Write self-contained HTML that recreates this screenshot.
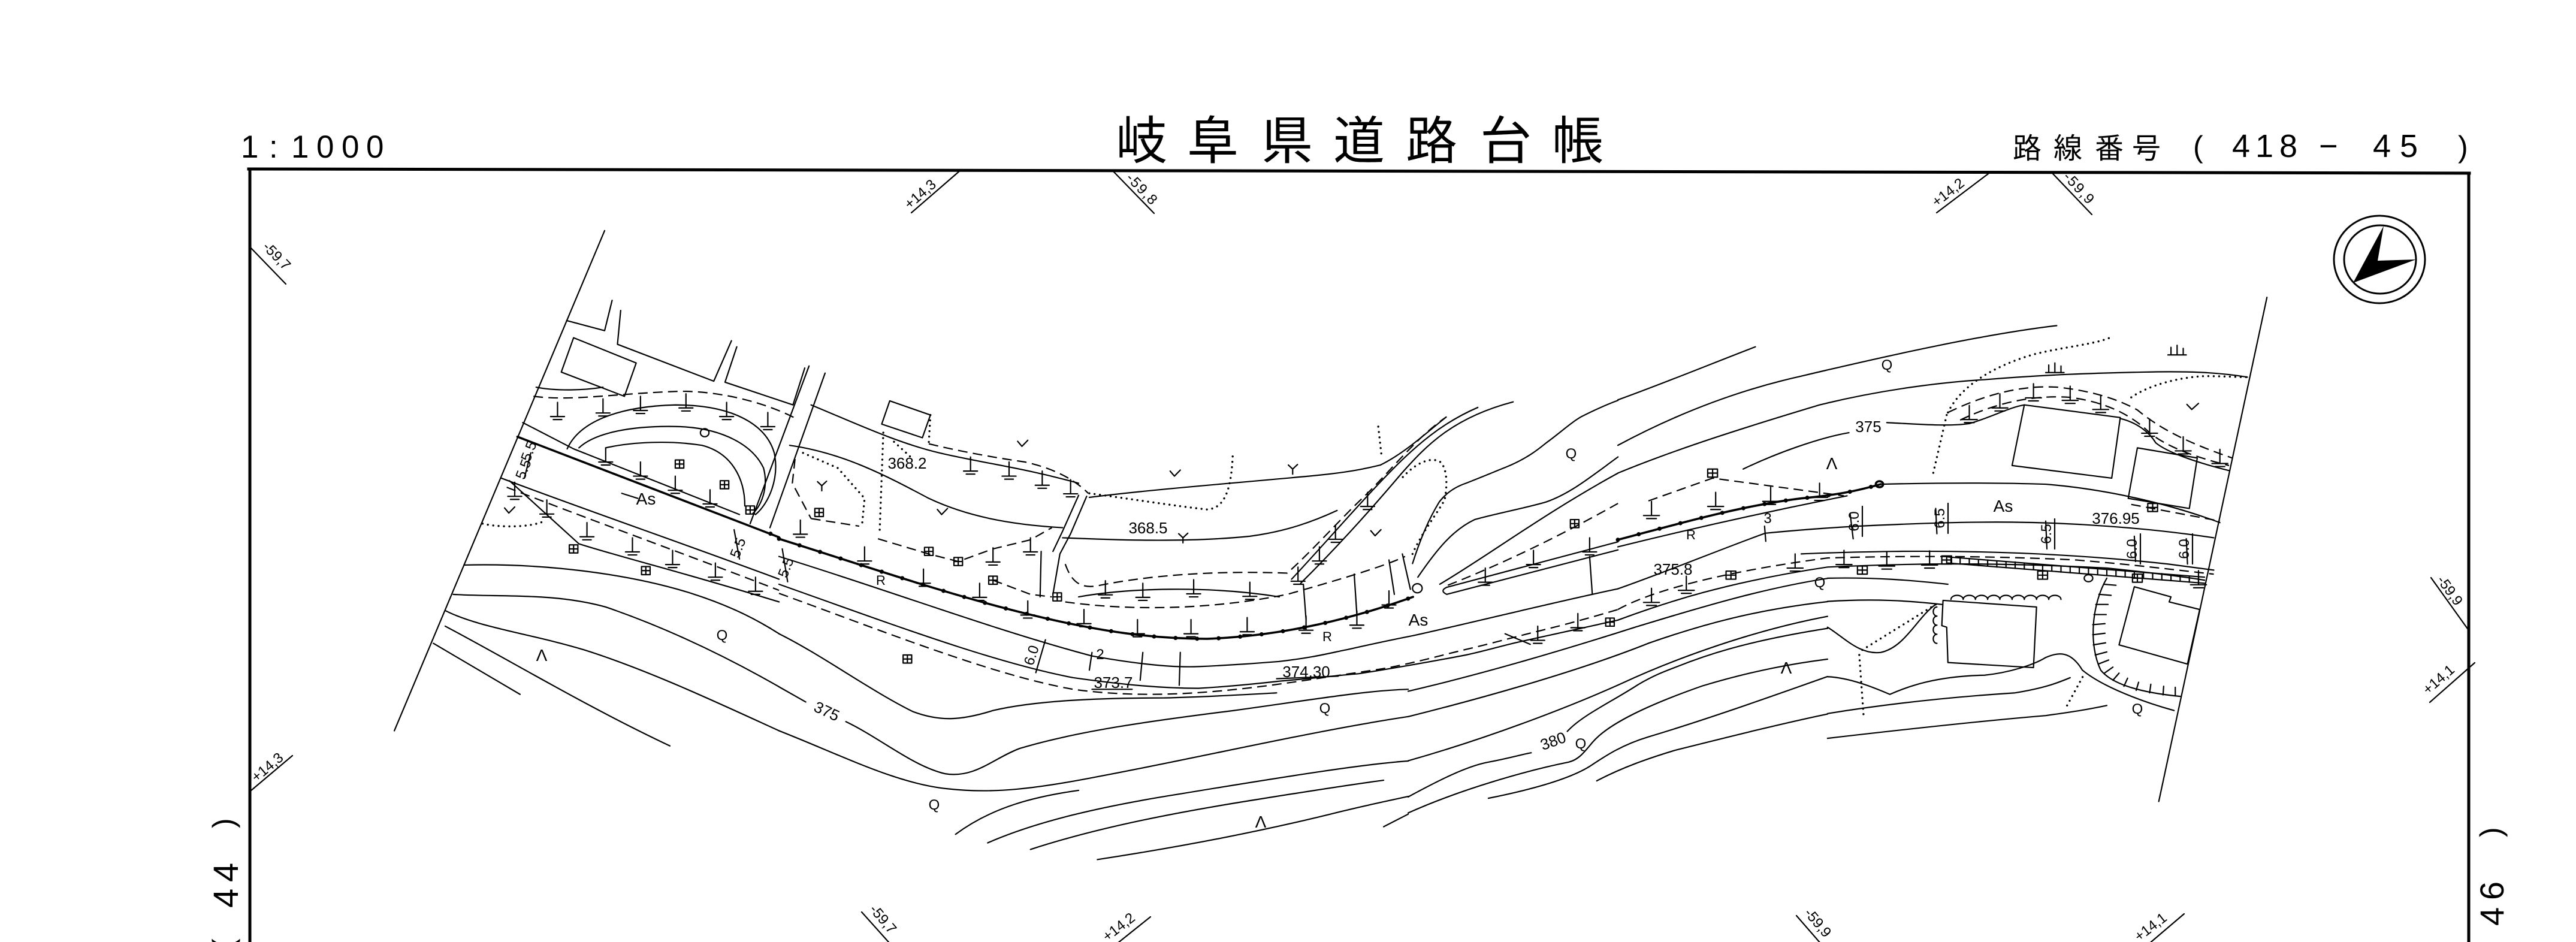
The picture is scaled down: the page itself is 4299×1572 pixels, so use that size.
<!DOCTYPE html>
<html><head><meta charset="utf-8"><style>
html,body{margin:0;padding:0;background:#fff}
body{width:4299px;height:1572px;overflow:hidden}
svg{display:block}
.l{fill:none;stroke:#000;stroke-width:2.2;vector-effect:non-scaling-stroke;stroke-linecap:round;stroke-linejoin:round}
.d{stroke-dasharray:16 9;stroke-linecap:butt}
.o{stroke-dasharray:0 9;stroke-width:3.4}
.k{stroke-width:3.6}
.p{stroke-dasharray:0 36;stroke-width:7}
.b{fill:none;stroke:#000;stroke-width:5;stroke-linecap:square}
.t{font-family:"Liberation Sans",sans-serif;font-size:26px;fill:#000}
.s{font-family:"Liberation Sans",sans-serif;font-size:24px;fill:#000}
.c{font-family:"Liberation Sans","Noto Sans CJK JP",sans-serif;fill:#000}
</style></head><body>
<svg width="4299" height="1572" viewBox="0 0 4299 1572" xmlns="http://www.w3.org/2000/svg">
<defs>
<path id="sl" class="l" d="M0,-22 V6 M-13,6 H13 M-8,12 H8"/>
<path id="sq" class="l" d="M-8,-8 H8 V8 H-8 Z M0,-8 V8 M-8,0 H8"/>
<path id="vk" class="l" d="M-9,-6 L-1,4 L10,-8"/>
<path id="yy" class="l" d="M0,10 V0 M0,0 L-8,-8 M0,0 L9,-9"/>
</defs>
<rect width="4299" height="1572" fill="#fff"/>

<!-- header -->
<text class="c" x="402 449 486 528 570 611" y="263" font-size="53">1:1000</text>
<text class="c" x="1862 1981 2105 2225 2346 2470 2590" y="265" font-size="86" style="font-family:'Noto Sans CJK JP',sans-serif">岐阜県道路台帳</text>
<text class="c" x="3359 3427 3496 3558" y="264" font-size="48" style="font-family:'Noto Sans CJK JP',sans-serif">路線番号</text>
<text class="c" x="3660" y="262" font-size="50">(</text>
<text class="c" x="3725 3764 3804" y="262" font-size="54">418</text>
<text class="c" x="3870" y="262" font-size="54">−</text>
<text class="c" x="3960 4005" y="262" font-size="54">45</text>
<text class="c" x="4102" y="262" font-size="50">)</text>

<!-- frame -->
<path class="b" d="M415,282 L4121,289"/>
<path class="b" d="M417,282 V1575"/>
<path class="b" d="M4120,289 V1575"/>

<!-- side labels -->
<text class="c" font-size="50" transform="translate(390,1583) rotate(-90)">(</text>
<text class="c" font-size="58" transform="translate(397,1515) rotate(-90)">4</text>
<text class="c" font-size="58" transform="translate(397,1472) rotate(-90)">4</text>
<text class="c" font-size="50" transform="translate(390,1382) rotate(-90)">)</text>
<text class="c" font-size="56" transform="translate(4178,1545) rotate(-90)">4</text>
<text class="c" font-size="56" transform="translate(4178,1502) rotate(-90)">6</text>
<text class="c" font-size="50" transform="translate(4174,1397) rotate(-90)">)</text>

<!-- north arrow -->
<ellipse cx="3971" cy="433" rx="76" ry="73" fill="none" stroke="#000" stroke-width="3"/>
<ellipse cx="3972" cy="433" rx="60" ry="57" fill="none" stroke="#000" stroke-width="3"/>
<polygon points="3978,377 3927,472 4032,433 3968,435" fill="#000"/>

<!-- grid ticks -->
<g>
<path class="l" d="M1521,355 L1603,284"/><text class="s" transform="translate(1518,350) rotate(-41)">+14,3</text>
<path class="l" d="M1858,286 L1926,356"/><text class="s" transform="translate(1878,298) rotate(46)" letter-spacing="2">-59,8</text>
<path class="l" d="M3232,355 L3322,287"/><text class="s" transform="translate(3232,346) rotate(-38)">+14,2</text>
<path class="l" d="M3426,290 L3491,358"/><text class="s" transform="translate(3442,296) rotate(47)" letter-spacing="2">-59,9</text>
<path class="l" d="M417,412 L477,474"/><text class="s" transform="translate(437,413) rotate(46)">-59,7</text>
<path class="l" d="M418,1320 L488,1261"/><text class="s" transform="translate(428,1306) rotate(-40)">+14,3</text>
<path class="l" d="M4057,964 L4120,1052"/><text class="s" transform="translate(4066,968) rotate(54)">-59,9</text>
<path class="l" d="M4055,1172 L4130,1106"/><text class="s" transform="translate(4052,1160) rotate(-41)">+14,1</text>
<path class="l" d="M1438,1522 L1490,1580"/><text class="s" transform="translate(1450,1518) rotate(50)">-59,7</text>
<path class="l" d="M1855,1582 L1920,1530"/><text class="s" transform="translate(1848,1572) rotate(-38)">+14,2</text>
<path class="l" d="M2998,1528 L3045,1582"/><text class="s" transform="translate(3010,1524) rotate(50)">-59,9</text>
<path class="l" d="M3578,1582 L3645,1525"/><text class="s" transform="translate(3570,1572) rotate(-38)">+14,1</text>
</g>

<!-- ===== region 2 ===== -->
<g transform="translate(350,250) scale(0.893,0.843)">
<path class="l" d="M738,160 L345,1150"/>
<path class="l" d="M752,298 L738,358 L667,338"/>
<path class="l" d="M768,318 L762,385 L942,458 L975,378"/>
<path class="l" d="M985,390 L963,460 L1090,505 L1112,432"/>
<path class="l" d="M680,372 L797,422 L775,488 L657,440 Z"/>
<path class="l" d="M1120,428 L1010,740 M1150,442 L1047,748"/>
<path class="l d" d="M605,488 C680,498 760,482 880,478 C960,478 1040,502 1092,530"/>
<path class="l" d="M610,470 C650,478 700,476 735,470"/>
<path class="l" d="M668,592 C690,540 760,508 870,505 C980,505 1040,545 1055,600 C1065,650 1045,700 1020,722"/>
<path class="l" d="M690,590 C720,560 790,545 880,548 C960,552 1015,585 1035,630 C1045,670 1030,705 1015,720"/>
<path class="l" d="M740,590 C790,578 860,575 920,585 C975,600 1000,650 1000,705"/>
<circle class="l" cx="925" cy="560" r="8"/>
<path class="l" d="M585,540 L680,592 L990,722"/>
<path class="l k" d="M575,568 L1064,767"/>
<path class="l p" d="M1048,760 L1064,767"/>
<path class="l" d="M545,650 C700,712 900,785 1064,850"/>
<path class="l d" d="M555,668 C700,728 900,805 1064,872"/>
<path class="l" d="M560,655 L690,780 C780,810 880,835 1064,895"/>
<path class="l o" d="M510,740 C540,748 600,748 625,735"/>
<path class="l" d="M770,680 L800,690"/>
<path class="l" d="M600,600 L588,650 M980,752 L990,810 M1070,790 L1080,855"/>
<path class="l" d="M475,822 C620,818 780,838 900,878 C980,905 1030,935 1064,958"/>
<path class="l" d="M455,880 C540,886 640,876 740,905 C850,945 960,1000 1064,1063"/>
<path class="l" d="M440,912 C500,945 600,958 700,990 C820,1030 950,1095 1064,1150"/>
<path class="l" d="M418,977 L580,1078"/>
<path class="l" d="M440,943 C560,1010 700,1100 860,1180"/>
<use href="#sl" x="650" y="522"/><use href="#sl" x="735" y="515"/><use href="#sl" x="805" y="510"/>
<use href="#sl" x="890" y="505"/><use href="#sl" x="966" y="522"/><use href="#sl" x="1043" y="542"/>
<use href="#sl" x="740" y="612"/><use href="#sl" x="805" y="640"/><use href="#sl" x="870" y="668"/><use href="#sl" x="935" y="695"/>
<use href="#sl" x="705" y="760"/><use href="#sl" x="790" y="790"/><use href="#sl" x="865" y="815"/>
<use href="#sl" x="945" y="840"/><use href="#sl" x="1020" y="868"/><use href="#sl" x="570" y="680"/><use href="#sl" x="630" y="715"/>
<use href="#sq" x="878" y="622"/><use href="#sq" x="962" y="663"/><use href="#sq" x="1010" y="713"/>
<use href="#sq" x="680" y="790"/><use href="#sq" x="815" y="833"/>
<use href="#vk" x="560" y="715"/>
</g>

<!-- ===== region 3 ===== -->
<g transform="translate(1300,250) scale(0.893,0.843)">
<path class="l" d="M207,497 L283,525 L268,570 L192,543 Z"/>
<path class="l o" d="M283,525 L280,580 M195,560 L188,760 M215,578 L248,610"/>
<path class="l o" d="M45,600 L110,630 L160,690 L155,745"/>
<path class="l d" d="M60,730 L150,745 M30,612 L25,660 L60,730"/>
<path class="l" d="M60,505 C140,540 220,580 300,600 C380,620 450,628 560,660"/>
<path class="l d" d="M280,582 C350,600 420,612 460,618 C510,630 550,650 578,680"/>
<path class="l" d="M20,585 C120,600 200,645 280,690 C350,725 430,742 530,748"/>
<path class="l o" d="M580,680 C650,690 740,705 800,712 C830,710 845,680 848,605"/>
<path class="l o" d="M1120,548 L1126,605"/>
<path class="l" d="M580,688 C700,672 850,660 1000,645 C1070,638 1100,630 1124,624 C1170,600 1210,560 1247,529"/>
<path class="l" d="M530,768 C620,772 760,778 880,765 C950,755 1000,735 1043,714"/>
<path class="l" d="M575,686 L545,760 L525,800 L512,880 M560,684 L530,755 L512,795"/>
<path class="l" d="M490,795 L488,885"/>
<path class="l d" d="M185,770 L280,800 L335,815 L400,790 L470,772 L510,748 M400,852 L470,880 L510,885"/>
<path class="l d" d="M535,820 C545,850 560,872 600,862 C680,845 800,832 950,838 C1000,790 1050,730 1090,690 C1140,640 1190,570 1247,529"/>
<path class="l" d="M975,858 C1040,790 1100,720 1164,640 C1210,585 1260,530 1372,499"/>
<path class="l" d="M958,850 C1020,780 1080,705 1140,640 C1190,585 1240,540 1306,510"/>
<path class="l d" d="M535,895 C650,912 800,912 950,880 C1050,850 1130,825 1170,805"/>
<path class="l" d="M560,885 C650,868 800,862 935,885"/>
<path class="l" d="M980,860 L985,930 M1075,840 L1080,920 M1140,812 L1150,880 M1165,800 L1180,870"/>
<circle class="l" cx="1193" cy="868" r="9"/>
<path class="l o" d="M1184,800 C1200,760 1230,720 1244,693 C1250,660 1248,630 1236,618 C1215,605 1185,625 1164,650"/>
<path class="l k" d="M0,770 C150,820 300,875 450,915 C600,955 700,968 800,968 C950,962 1080,925 1185,885"/>
<path class="l p" d="M0,770 C150,820 300,875 450,915 C600,955 700,968 800,968 C950,962 1080,925 1185,885"/>
<path class="l" d="M1568,776 L1248,866 Q1234,873 1248,880 L1568,792"/>
<path class="l" d="M0,805 C200,870 400,950 585,1002 C680,1020 740,1025 784,1023 C850,1020 900,1016 934,1013 C1000,1005 1030,996 1064,989 C1110,978 1150,969 1184,962 C1300,935 1450,895 1568,869"/>
<path class="l" d="M0,860 C200,935 400,1015 550,1045 C650,1060 720,1066 784,1066 C850,1062 900,1056 934,1052 C1000,1046 1050,1040 1084,1037 C1150,1026 1220,1013 1284,1000 C1320,992 1350,982 1384,974 C1450,958 1510,944 1568,931"/>
<path class="l d" d="M0,878 C200,955 400,1040 550,1068 C700,1090 850,1072 1004,1047 C1060,1038 1100,1032 1135,1026 C1190,1015 1240,1000 1284,989 C1340,975 1390,960 1434,949 C1480,937 1530,922 1568,910"/>
<path class="l" d="M1357,958 L1404,979"/>
<path class="l" d="M580,1030 L585,995 M585,1068 L660,1068 M930,1047 L1045,1042"/>
<path class="l" d="M498,970 L480,1035 M680,995 L675,1050 M750,995 L748,1060 M1515,805 L1520,880"/>
<path class="l" d="M0,958 C80,1000 170,1070 250,1112 C300,1132 340,1130 400,1110 C480,1090 600,1085 720,1085 C800,1083 880,1078 930,1075"/>
<path class="l" d="M0,1063 L50,1093 M125,1132 C190,1165 250,1220 310,1235 C365,1245 400,1205 450,1185 C560,1150 700,1130 850,1110 C1000,1088 1100,1070 1176,1068"/>
<path class="l" d="M0,1150 C120,1200 220,1255 316,1265 C400,1275 480,1265 600,1240 C800,1200 1000,1150 1176,1122"/>
<path class="l" d="M330,1355 C400,1300 480,1280 560,1268"/>
<path class="l" d="M390,1372 C480,1330 600,1300 750,1275 C950,1240 1100,1215 1176,1210"/>
<path class="l" d="M470,1385 C600,1340 750,1310 900,1285 C1000,1268 1080,1255 1130,1248"/>
<path class="l" d="M595,1405 C750,1380 900,1350 1050,1310 C1100,1297 1150,1286 1176,1280"/>
<path class="l" d="M1130,1340 L1176,1315"/>
<path class="l" d="M1184,819 C1200,766 1215,730 1234,697 C1250,675 1270,665 1284,660 C1320,645 1340,636 1359,628 C1400,610 1420,592 1434,580 C1460,560 1480,540 1500,528 C1530,512 1550,503 1568,496"/>
<path class="l" d="M1194,846 C1230,790 1260,752 1300,732 C1340,720 1400,708 1434,697 C1480,680 1520,645 1568,608"/>
<path class="l" d="M1235,860 C1330,800 1430,720 1568,640"/>
<path class="l d" d="M1250,862 C1350,820 1450,770 1568,700"/>
<use href="#sl" x="358" y="630"/><use href="#sl" x="430" y="640"/><use href="#sl" x="492" y="658"/><use href="#sl" x="545" y="675"/>
<use href="#sl" x="40" y="755"/><use href="#sl" x="160" y="808"/><use href="#sl" x="270" y="852"/><use href="#sl" x="375" y="880"/><use href="#sl" x="465" y="915"/>
<use href="#sl" x="610" y="875"/><use href="#sl" x="680" y="880"/><use href="#sl" x="775" y="873"/><use href="#sl" x="880" y="878"/>
<use href="#sl" x="570" y="932"/><use href="#sl" x="670" y="952"/><use href="#sl" x="770" y="952"/><use href="#sl" x="875" y="948"/>
<use href="#sl" x="985" y="945"/><use href="#sl" x="1080" y="935"/><use href="#sl" x="1140" y="895"/>
<use href="#sl" x="970" y="848"/><use href="#sl" x="1010" y="808"/><use href="#sl" x="1040" y="765"/><use href="#sl" x="1100" y="700"/>
<use href="#sl" x="400" y="810"/><use href="#sl" x="470" y="790"/>
<use href="#sl" x="1320" y="850"/><use href="#sl" x="1410" y="815"/><use href="#sl" x="1515" y="790"/>
<use href="#sl" x="1418" y="965"/><use href="#sl" x="1493" y="940"/>
<use href="#sq" x="75" y="718"/><use href="#sq" x="280" y="795"/><use href="#sq" x="335" y="815"/><use href="#sq" x="400" y="852"/>
<use href="#sq" x="520" y="885"/><use href="#sq" x="240" y="1008"/><use href="#sq" x="1487" y="740"/><use href="#sq" x="1553" y="935"/>
<use href="#vk" x="455" y="583"/><use href="#vk" x="305" y="718"/><use href="#vk" x="740" y="642"/><use href="#vk" x="1115" y="760"/>
<use href="#yy" x="80" y="665"/><use href="#yy" x="960" y="632"/><use href="#yy" x="755" y="768"/>
</g>

<!-- ===== region A (lower contours 2350-3050) ===== -->
<g transform="translate(2350,850) scale(0.4464)">
<path class="l" d="M0,680 C300,610 600,520 850,440 C1050,380 1300,300 1568,258"/>
<path class="l" d="M0,775 C300,700 650,600 900,500 C1100,430 1300,375 1568,345"/>
<path class="l" d="M0,940 C300,855 600,740 800,650 C950,580 1250,460 1568,400"/>
<path class="l" d="M0,1075 C120,1010 220,960 300,945 C380,930 430,915 460,910 M595,830 C650,770 760,720 860,655 C920,620 960,605 1000,590 C1100,550 1250,495 1568,445"/>
<path class="l" d="M0,1135 C200,1045 450,975 600,945 C640,935 660,905 690,870 C750,800 900,730 1100,660 C1300,600 1450,575 1568,560"/>
<path class="l" d="M300,1080 C450,1050 600,1010 680,960 C740,920 800,880 900,850 C1100,790 1300,720 1568,625"/>
<path class="l" d="M705,1015 C800,965 900,930 1000,900 C1200,850 1400,800 1568,765"/>
</g>

<!-- ===== region 4 ===== -->
<g transform="translate(2700,250) scale(1.02,0.843)">
<path class="l" d="M1062,292 L885,1290"/>
<path class="l" d="M0,495 C80,460 160,420 225,390"/>
<path class="l" d="M0,585 C100,520 200,475 300,448 C450,405 600,365 718,348"/>
<path class="l" d="M0,640 C100,590 220,545 330,505 C430,475 530,460 600,455 C700,445 780,442 860,440 C930,438 980,440 1030,450"/>
<path class="l" d="M205,632 C260,600 330,570 378,560"/>
<path class="l" d="M440,540 C490,543 540,548 575,542 C610,530 640,510 665,505"/>
<path class="l o" d="M540,520 C560,470 610,430 680,405 C730,390 780,385 805,372"/>
<path class="l o" d="M538,525 L515,645"/>
<path class="l o" d="M840,490 C870,465 920,450 960,448 C990,448 1015,450 1030,450"/>
<path class="l d" d="M540,520 C600,485 660,465 720,470 C780,478 820,495 850,515 C880,545 920,575 1005,610"/>
<path class="l d" d="M560,535 C620,500 680,485 740,490 C800,500 840,525 870,560 C900,590 950,610 1000,625"/>
<path class="l" d="M822,532 C850,540 870,560 880,580 C900,600 950,620 1000,635"/>
<path class="l" d="M665,505 L822,530 L808,650 L645,625 Z"/>
<path class="l" d="M850,590 L948,610 L935,710 L835,690 Z"/>
<path class="l" d="M532,892 L685,905 L680,1025 L540,1015 L538,945 L530,942 Z"/>
<path class="l" d="M545,890 a10,8 0 0 1 20,0 a10,8 0 0 1 20,0 a10,8 0 0 1 20,0 a10,8 0 0 1 20,0 a10,8 0 0 1 20,0 a10,8 0 0 1 20,0 a10,8 0 0 1 20,0 a10,8 0 0 1 20,0 a10,8 0 0 1 20,0"/>
<path class="l" d="M522,905 a6,9 0 0 0 0,18 a6,9 0 0 0 0,18 a6,9 0 0 0 0,18 a6,9 0 0 0 0,18"/>
<path class="l" d="M845,865 L905,885 L902,895 L952,910 L932,1018 L820,980 Z"/>
<path class="l" d="M800,848 C775,900 770,980 790,1030 C810,1060 860,1075 920,1082"/>
<path class="l" d="M795,860 L815,862 M787,880 L807,882 M782,900 L802,900 M779,920 L799,920 M777,940 L797,938 M777,960 L797,957 M778,980 L798,976 M781,1000 L800,994 M786,1018 L803,1010 M796,1036 L810,1024 M810,1050 L820,1036 M828,1062 L834,1046 M848,1070 L852,1054 M870,1075 L872,1058 M892,1079 L893,1062 M912,1081 L912,1064"/>
<path class="l k" d="M0,772 C100,740 200,705 300,690 C370,682 400,672 430,662"/>
<path class="l p" d="M0,772 C100,740 200,705 300,690 C370,682 400,672 430,662"/>
<path class="l" d="M430,662 C500,660 600,658 700,662 C800,672 900,700 985,738"/>
<circle class="l k" cx="428" cy="662" r="6"/>
<path class="l" d="M0,786 C120,750 250,715 375,685"/>
<path class="l d" d="M50,695 L155,650 L370,685"/>
<path class="l d" d="M840,702 L985,735"/>
<path class="l" d="M0,869 C80,835 170,790 241,759 C300,752 380,745 450,742 C600,734 700,736 800,745 C880,752 930,760 975,768"/>
<path class="l" d="M240,745 L242,775"/>
<path class="l" d="M300,800 C350,797 400,796 450,795 C600,793 750,800 900,820 L975,832"/>
<path class="l d" d="M0,910 C60,870 180,834 343,808 C450,804 600,803 750,812 C850,822 900,830 975,840"/>
<path class="l" d="M0,931 C80,895 182,855 343,826 C450,820 600,815 800,828 C880,838 930,846 960,852"/>
<path class="l" d="M540,806 L960,846 M540,818 L960,858"/>
<path class="l" d="M545,806v12M560,808v12M575,809v12M590,811v12M605,812v12M620,814v12M635,815v12M650,816v12M665,818v12M680,819v12M695,821v12M710,822v12M725,824v12M740,825v12M755,826v12M770,828v12M785,829v12M800,831v12M815,832v12M830,834v12M845,835v12M860,836v12M875,838v12M890,839v12M905,841v12M920,842v12M935,844v12M950,845v12"/>
<path class="l" d="M380,720 L385,770 M520,710 L522,760 M700,735 L702,790 M845,765 L847,815 M930,770 L932,820"/>
<path class="l" d="M343,848 C420,846 480,852 540,860"/>
<path class="l" d="M343,894 C420,888 480,893 530,900"/>
<path class="l" d="M343,945 C370,965 395,1000 430,995 C470,985 490,925 520,900"/>
<path class="l" d="M343,1043 C380,1045 420,1065 445,1078 C475,1062 520,1042 600,1040 C640,1035 680,1020 700,1005 C720,995 740,990 760,1030 C790,1060 850,1090 910,1110"/>
<path class="l" d="M343,1116 C450,1095 560,1082 650,1075 C700,1065 720,1055 740,1045"/>
<path class="l" d="M343,1165 C450,1150 600,1130 700,1120 C760,1110 780,1105 800,1100"/>
<path class="l o" d="M400,990 L520,900 M395,1000 L402,1120 M735,1100 L762,1040"/>
<circle class="l" cx="770" cy="848" r="7"/>
<use href="#sl" x="55" y="718"/><use href="#sl" x="160" y="700"/><use href="#sl" x="250" y="690"/><use href="#sl" x="330" y="682"/>
<use href="#sl" x="55" y="890"/><use href="#sl" x="112" y="866"/>
<use href="#sl" x="290" y="822"/><use href="#sl" x="370" y="815"/><use href="#sl" x="440" y="818"/><use href="#sl" x="510" y="816"/>
<use href="#sl" x="575" y="528"/><use href="#sl" x="625" y="505"/><use href="#sl" x="680" y="485"/><use href="#sl" x="740" y="490"/>
<use href="#sl" x="790" y="508"/><use href="#sl" x="870" y="555"/><use href="#sl" x="925" y="590"/><use href="#sl" x="985" y="615"/><use href="#sl" x="950" y="855"/>
<use href="#sq" x="155" y="640"/><use href="#sq" x="185" y="842"/><use href="#sq" x="400" y="832"/><use href="#sq" x="538" y="812"/>
<use href="#sq" x="695" y="842"/><use href="#sq" x="850" y="848"/><use href="#sq" x="875" y="708"/>
<use href="#vk" x="940" y="510"/>
<path class="l" d="M905,405 v-14 M915,405 v-18 M925,405 v-12 M900,406 H930 M705,440 v-14 M715,440 v-18 M725,440 v-12 M700,441 H730"/>
</g>

<!-- map labels -->
<g class="t">
<text x="1078" y="842" text-anchor="middle" font-size="28">As</text>
<text x="2367" y="1044" text-anchor="middle" font-size="28">As</text>
<text x="3343" y="854" text-anchor="middle" font-size="28">As</text>
<text x="1514" y="782" text-anchor="middle">368.2</text>
<text x="1916" y="890" text-anchor="middle">368.5</text>
<text x="1470" y="976" text-anchor="middle" font-size="22">R</text>
<text x="2215" y="1070" text-anchor="middle" font-size="22">R</text>
<text x="2822" y="900" text-anchor="middle" font-size="22">R</text>
<text x="1836" y="1100" text-anchor="middle" font-size="24">2</text>
<text x="2950" y="873" text-anchor="middle" font-size="24">3</text>
<text x="1858" y="1148" text-anchor="middle">373.7</text>
<text x="2180" y="1130" text-anchor="middle">374.30</text>
<text x="3531" y="874" text-anchor="middle">376.95</text>
<text x="2792" y="959" text-anchor="middle">375.8</text>
<text x="3118" y="721" text-anchor="middle">375</text>
<text transform="translate(1376,1195) rotate(25)" text-anchor="middle">375</text>
<text transform="translate(2595,1245) rotate(-20)" text-anchor="middle">380</text>
<text transform="translate(890,756) rotate(-69)" text-anchor="middle" font-size="24">5.5</text>
<text transform="translate(881,786) rotate(-69)" text-anchor="middle" font-size="24">5.5</text>
<text transform="translate(1239,917) rotate(-69)" text-anchor="middle" font-size="24">5.5</text>
<text transform="translate(1319,950) rotate(-69)" text-anchor="middle" font-size="24">5.5</text>
<text transform="translate(1729,1096) rotate(-72)" text-anchor="middle" font-size="24">6.0</text>
<text transform="translate(3102,870) rotate(-90)" text-anchor="middle" font-size="24">6.0</text>
<text transform="translate(3245,865) rotate(-90)" text-anchor="middle" font-size="24">6.5</text>
<text transform="translate(3423,891) rotate(-90)" text-anchor="middle" font-size="24">6.5</text>
<text transform="translate(3566,916) rotate(-90)" text-anchor="middle" font-size="24">6.0</text>
<text transform="translate(3653,916) rotate(-90)" text-anchor="middle" font-size="24">6.0</text>
<g font-size="24" text-anchor="middle">
<text x="2211" y="1190">Q</text><text x="1559" y="1351">Q</text><text x="2622" y="765">Q</text><text x="2638" y="1249">Q</text>
<text x="1205" y="1068">Q</text><text x="3149" y="617">Q</text><text x="3037" y="980">Q</text><text x="3567" y="1191">Q</text>
</g>
<g font-size="28" text-anchor="middle">
<text x="2104" y="1381">Λ</text><text x="904" y="1103">Λ</text><text x="3057" y="783">Λ</text><text x="2981" y="1124">Λ</text>
</g>
</g>
<path class="l" d="M3108,845 V895 M3251,840 V890 M3429,866 V916 M3572,891 V941 M3659,891 V941"/>
</svg>
</body></html>
